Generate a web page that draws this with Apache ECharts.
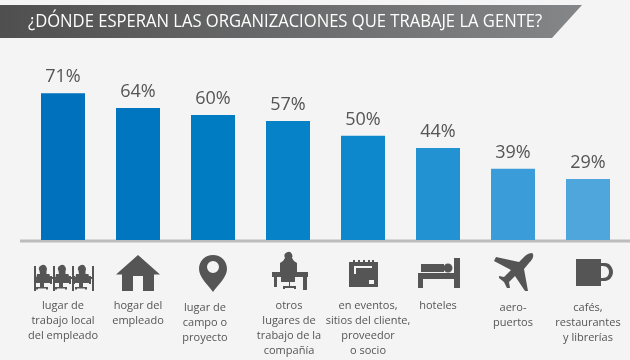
<!DOCTYPE html>
<html><head><meta charset="utf-8">
<style>html,body{margin:0;padding:0;background:#f4f4f4}#c{width:630px;height:360px}</style>
<script src="https://cdn.jsdelivr.net/npm/echarts@6/dist/echarts.min.js"></script>
</head><body><div id="c"></div>
<script>
const titleText = '¿DÓNDE ESPERAN LAS ORGANIZACIONES QUE TRABAJE LA GENTE?';
const categories = [
  'lugar de\ntrabajo local\ndel empleado',
  'hogar del\nempleado',
  'lugar de\ncampo o\nproyecto',
  'otros\nlugares de\ntrabajo de la\ncompañía',
  'en eventos,\nsitios del cliente,\nproveedor\no socio',
  'hoteles',
  'aero-\npuertos',
  'cafés,\nrestaurantes\ny librerías'
];
const percentLabels = [71, 64, 60, 57, 50, 44, 39, 29];
const barHeights = [71.2, 64.1, 60.7, 57.8, 50.6, 44.7, 34.6, 29.6];
const barColors = ['#0071bc','#0076c0','#007cc3','#0582c8','#0d88cd','#2392d2','#3a9cd8','#4fa6dd'];

const dark = '#555555';
const bgc = '#f4f4f4';
function chair(x){
  return `M${x-3.5} 271a4 4 0 1 1 7 0v3h3l1.5 9h-15.5l1.5-9h3z M${x-1} 283h2v4h4v2.5h-2v-1h-8v1h-2v-2.5h4v-4z M${x-9} 276h2v8h-2z M${x+7} 276h2v8h-2z `;
}
const iconPaths = [
  'M-29 266h2v25h-2z M-10 266h2v25h-2z M9 266h2v25h-2z M29 266h2v25h-2z M-29 277h60v2h-60z '+chair(-20)+chair(-1)+chair(19),
  'M0 255L22 274.5H16V291H5V276H-5V291H-16V274.5H-22Z',
  'M0 255C8 255 14 261 14 269C14 277 5 285 0 292C-5 285 -14 277 -14 269C-14 261 -8 255 0 255ZM0 261a6 6 0 1 0 0.01 0Z',
  'M-3 258a4 4 0 1 1 7 0l2 3 3 2v9h-17v-9l3-2z M-16 272h36v5h-36z M-14 277h3v10h-3z M15 277h4v13h-4z M-7 277h14v5h-5v4h6v3h-2v-1h-9v1h-2v-3h6v-4h-8z',
  'M-14 262H-10V260H-8V262H-5V260H-3V262H0V260H2V262H5V260H7V262H9V260H11V262H15V287H-14Z',
  'M-17 264H6V272H-17Z M-20 273H16V258H22V288H16V279H-15V288H-20Z M10 263.5a4.5 4.5 0 1 1 -0.01 0Z',
  'M19 253L20 254C21 257 19 260 16 263L11 269L15 291L12 291L2 276L-4 282L-3 288L-6 288L-9 282L-14 278L-14 276L-9 277L-2 270L-19 261L-17 257L6 262L12 256C14 254 17 253 19 253Z',
  'M-12 259H13V263H17C22 263 25 268 25 272C25 277 21 281 17 281H13V286H-12Z M13 266V278H15C19 278 21 275 21 272C21 269 19 266 15 266Z'
];
const iconCuts = ['','','','','M-9 266H9V268H-7V274H-9Z M6 280H11V284H6Z','','',''];
// padding [top,right,bottom,left] nudges individual labels off the category centre
const labelPads = [[0,0,0,0],[0,0,0,0],[2,16,0,0],[0,0,0,2],[0,0,0,10],[0,0,0,0],[2,0,0,0],[2,0,0,0]];

const shapeTypes = iconPaths.map((p,i)=>{
  const name='ic'+i;
  echarts.graphic.registerShape(name, echarts.graphic.extendPath(p,{}));
  return name;
});
const cutTypes = iconCuts.map((p,i)=>{
  if(!p) return null;
  const name='cut'+i;
  echarts.graphic.registerShape(name, echarts.graphic.extendPath(p,{}));
  return name;
});
const chart = echarts.init(document.getElementById('c'));
const option = {
  animation:false,
  backgroundColor:bgc,
  grid:{left:25.5,width:600,top:34,height:206},
  xAxis:{type:'category',
    data:categories.map((c,i)=>({value:c,textStyle:{padding:labelPads[i]}})),
    axisLine:{show:false},axisTick:{show:false},
    axisLabel:{interval:0,margin:58,color:dark,fontFamily:'Open Sans',fontSize:11,lineHeight:15,hideOverlap:false,verticalAlign:'top'}},
  yAxis:{type:'value',min:0,max:100,show:false,splitLine:{show:false}},
  series:[{type:'bar',barWidth:44,z:3,
    data:barHeights.map((v,i)=>({value:v,itemStyle:{color:barColors[i]},
      label:{formatter:percentLabels[i]+'%'}})),
    label:{show:true,position:'top',distance:7,color:dark,fontFamily:'Open Sans',fontSize:18}}],
  graphic:[
    {type:'polygon',z:1,shape:{points:[[0,5],[582,5],[552,38],[0,38]]},
      style:{fill:new echarts.graphic.LinearGradient(0,0,1,0,[{offset:0,color:'#4f4f50'},{offset:1,color:'#858687'}])}},
    {type:'text',z:2,x:28,y:21.5,scaleX:0.922,style:{text:titleText,fill:'#fff',font:'18px "Open Sans"',verticalAlign:'middle'}},
    {type:'rect',z:1,shape:{x:20,y:239.5,width:610,height:3},style:{fill:'#bcbcbc'}}
  ]
};
chart.setOption(option);
const g = option.graphic.slice();
categories.forEach((c,i)=>{
  const cx = chart.convertToPixel({xAxisIndex:0},i);
  g.push({type:shapeTypes[i],x:cx,y:0,z:2,style:{fill:dark}});
  if(cutTypes[i]) g.push({type:cutTypes[i],x:cx,y:0,z:3,style:{fill:bgc}});
});
chart.setOption({graphic:g});
</script></body></html>
